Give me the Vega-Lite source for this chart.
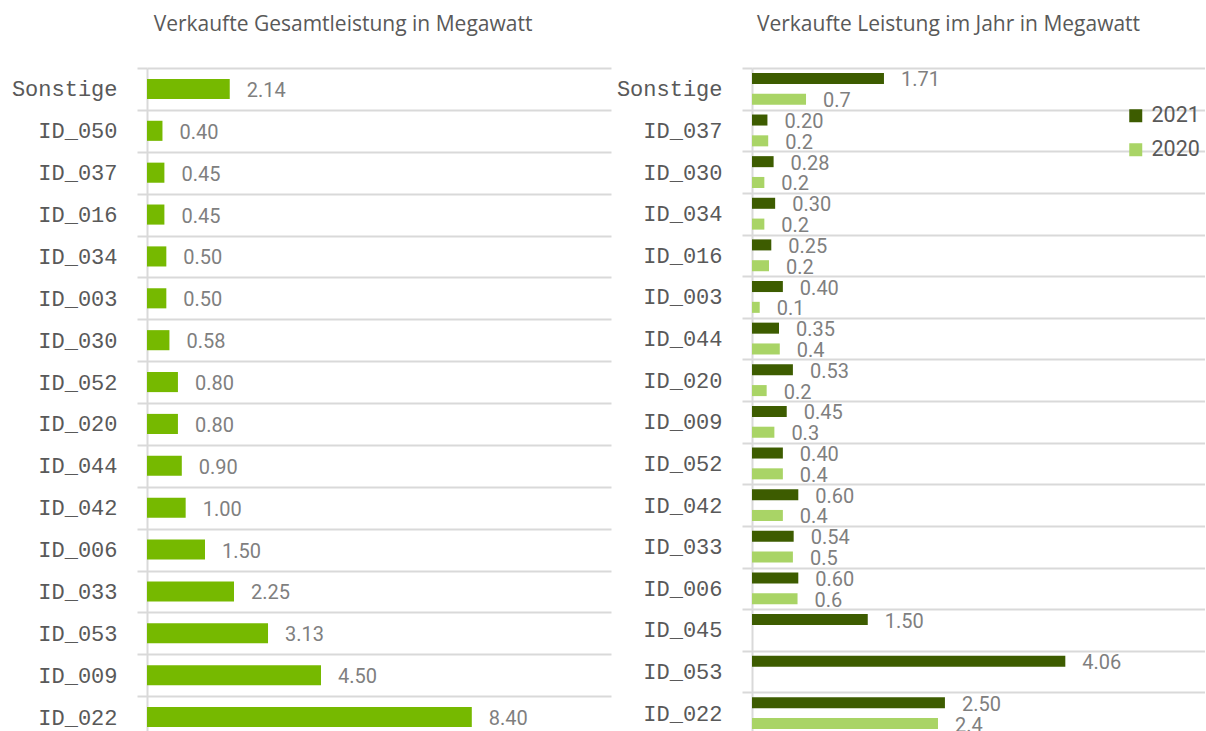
{
  "$schema": "https://vega.github.io/schema/vega-lite/v6.json",
  "background": "white",
  "padding": {"left": 10, "top": 14, "right": 0, "bottom": 0},
  "spacing": 4,
  "config": {
    "view": {"stroke": null},
    "axis": {
      "labelFont": "Liberation Mono",
      "labelFontSize": 22,
      "labelColor": "#595959",
      "domainColor": "#d9d9d9",
      "domainWidth": 2,
      "tickColor": "#d9d9d9",
      "tickWidth": 2,
      "tickSize": 10,
      "gridColor": "#d9d9d9",
      "gridWidth": 2,
      "labelPadding": 20
    },
    "title": {"font": "Open Sans", "fontSize": 21, "fontWeight": "normal", "color": "#595959"}
  },
  "datasets": {
    "total": [
      {"id": "Sonstige", "value": 2.14},
      {"id": "ID_050", "value": 0.40},
      {"id": "ID_037", "value": 0.45},
      {"id": "ID_016", "value": 0.45},
      {"id": "ID_034", "value": 0.50},
      {"id": "ID_003", "value": 0.50},
      {"id": "ID_030", "value": 0.58},
      {"id": "ID_052", "value": 0.80},
      {"id": "ID_020", "value": 0.80},
      {"id": "ID_044", "value": 0.90},
      {"id": "ID_042", "value": 1.00},
      {"id": "ID_006", "value": 1.50},
      {"id": "ID_033", "value": 2.25},
      {"id": "ID_053", "value": 3.13},
      {"id": "ID_009", "value": 4.50},
      {"id": "ID_022", "value": 8.40}
    ],
    "yearly": [
      {"id": "Sonstige", "year": "2021", "value": 1.71},
      {"id": "Sonstige", "year": "2020", "value": 0.70},
      {"id": "ID_037", "year": "2021", "value": 0.20},
      {"id": "ID_037", "year": "2020", "value": 0.21},
      {"id": "ID_030", "year": "2021", "value": 0.28},
      {"id": "ID_030", "year": "2020", "value": 0.16},
      {"id": "ID_034", "year": "2021", "value": 0.30},
      {"id": "ID_034", "year": "2020", "value": 0.16},
      {"id": "ID_016", "year": "2021", "value": 0.25},
      {"id": "ID_016", "year": "2020", "value": 0.22},
      {"id": "ID_003", "year": "2021", "value": 0.40},
      {"id": "ID_003", "year": "2020", "value": 0.10},
      {"id": "ID_044", "year": "2021", "value": 0.35},
      {"id": "ID_044", "year": "2020", "value": 0.36},
      {"id": "ID_020", "year": "2021", "value": 0.53},
      {"id": "ID_020", "year": "2020", "value": 0.19},
      {"id": "ID_009", "year": "2021", "value": 0.45},
      {"id": "ID_009", "year": "2020", "value": 0.29},
      {"id": "ID_052", "year": "2021", "value": 0.40},
      {"id": "ID_052", "year": "2020", "value": 0.40},
      {"id": "ID_042", "year": "2021", "value": 0.60},
      {"id": "ID_042", "year": "2020", "value": 0.40},
      {"id": "ID_033", "year": "2021", "value": 0.54},
      {"id": "ID_033", "year": "2020", "value": 0.53},
      {"id": "ID_006", "year": "2021", "value": 0.60},
      {"id": "ID_006", "year": "2020", "value": 0.59},
      {"id": "ID_045", "year": "2021", "value": 1.50},
      {"id": "ID_053", "year": "2021", "value": 4.06},
      {"id": "ID_022", "year": "2021", "value": 2.50},
      {"id": "ID_022", "year": "2020", "value": 2.41}
    ]
  },
  "hconcat": [
    {
      "width": 464,
      "height": 670,
      "data": {"name": "total"},
      "title": {"text": "Verkaufte Gesamtleistung in Megawatt", "frame": "group", "anchor": "middle", "dx": -36, "offset": 5, "baseline": "alphabetic"},
      "encoding": {
        "y": {
          "field": "id", "type": "nominal", "sort": null,
          "scale": {"paddingInner": 0, "paddingOuter": 0},
          "axis": {"title": null, "grid": true, "tickBand": "extent", "minExtent": 137, "maxExtent": 137}
        },
        "x": {"field": "value", "type": "quantitative", "scale": {"domain": [0, 12]}, "axis": null}
      },
      "layer": [
        {"mark": {"type": "bar", "color": "#76b900", "height": {"band": 0.48}}},
        {
          "mark": {"type": "text", "align": "left", "baseline": "middle", "dx": 17, "dy": 2, "font": "Roboto", "fontSize": 20, "color": "#7f7f7f"},
          "encoding": {"text": {"field": "value", "format": ".2f"}}
        }
      ]
    },
    {
      "width": 453,
      "height": 666,
      "data": {"name": "yearly"},
      "title": {"text": "Verkaufte Leistung im Jahr in Megawatt", "frame": "group", "anchor": "middle", "dx": -30, "offset": 5, "baseline": "alphabetic"},
      "encoding": {
        "y": {
          "field": "id", "type": "nominal", "sort": null,
          "scale": {"paddingInner": 0, "paddingOuter": 0},
          "axis": {"title": null, "grid": true, "tickBand": "extent", "minExtent": 137, "maxExtent": 137}
        },
        "yOffset": {"field": "year", "type": "nominal", "scale": {"domain": ["2021", "2020"], "paddingInner": 0.47, "paddingOuter": 0.235}},
        "x": {"field": "value", "type": "quantitative", "scale": {"domain": [0, 5.87]}, "axis": null}
      },
      "layer": [
        {
          "mark": {"type": "bar"},
          "encoding": {
            "color": {
              "field": "year", "type": "nominal",
              "scale": {"domain": ["2021", "2020"], "range": ["#3d5c00", "#a9d466"]},
              "legend": {"orient": "none", "legendX": 978, "legendY": 37, "title": null, "symbolType": "square", "symbolSize": 169, "symbolStrokeWidth": 0, "labelFont": "Roboto", "labelFontSize": 21.5, "labelColor": "#595959", "rowPadding": 11, "labelOffset": 5}
            }
          }
        },
        {
          "mark": {"type": "text", "align": "left", "baseline": "middle", "dx": 17, "dy": 2, "font": "Roboto", "fontSize": 20, "color": "#7f7f7f"},
          "encoding": {
            "text": {
              "condition": {"test": "datum.year == '2020'", "field": "value", "format": ".1f"},
              "field": "value", "format": ".2f"
            }
          }
        }
      ]
    }
  ]
}
